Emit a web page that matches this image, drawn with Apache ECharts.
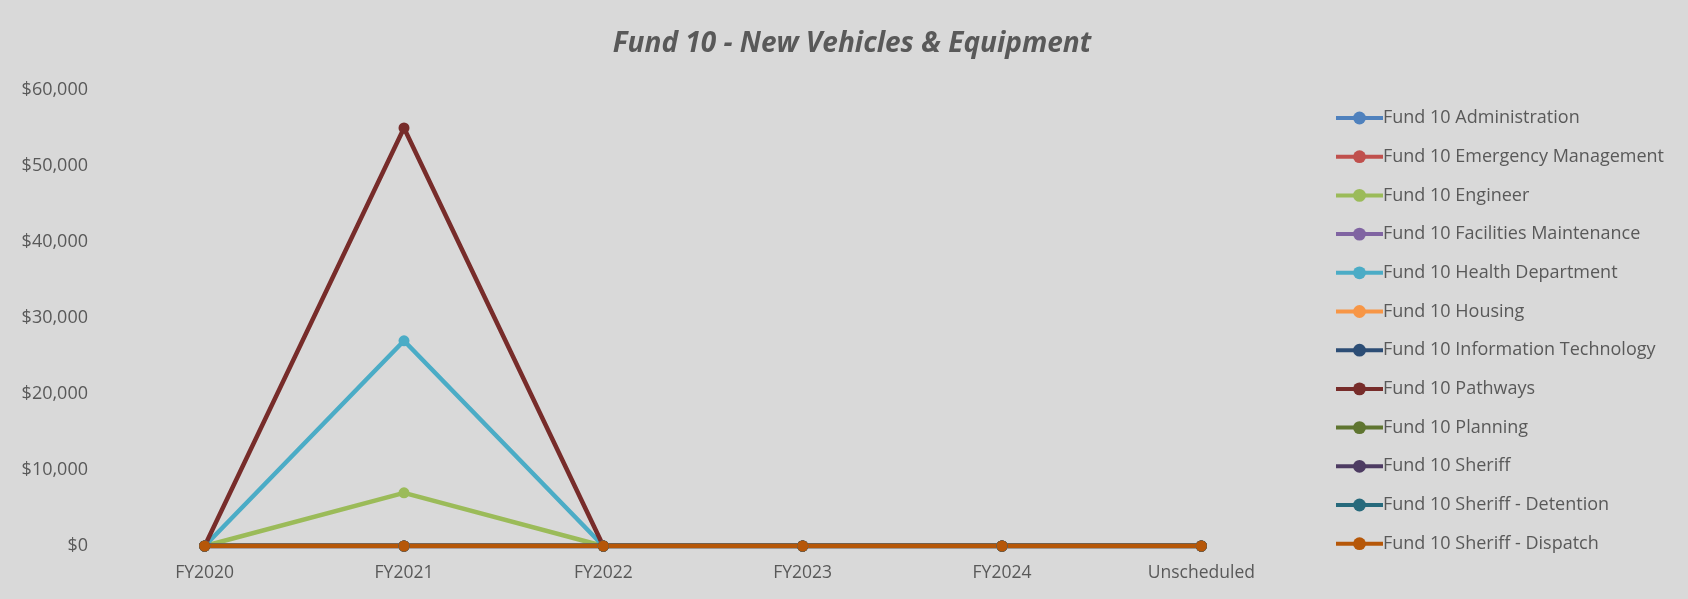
<!DOCTYPE html>
<html><head><meta charset="utf-8">
<script src="https://cdn.jsdelivr.net/npm/echarts@6/dist/echarts.min.js"></script>
<style>html,body{margin:0;padding:0;background:#D9D9D9;}#c{width:1688px;height:599px;}</style>
</head><body><div id="c"></div>
<script>
const categories = ['FY2020','FY2021','FY2022','FY2023','FY2024','Unscheduled'];
const seriesNames = ['Fund 10 Administration','Fund 10 Emergency Management','Fund 10 Engineer','Fund 10 Facilities Maintenance','Fund 10 Health Department','Fund 10 Housing','Fund 10 Information Technology','Fund 10 Pathways','Fund 10 Planning','Fund 10 Sheriff','Fund 10 Sheriff - Detention','Fund 10 Sheriff - Dispatch'];
const administration = [0,0,0,0,0,0];
const emergencyManagement = [0,0,0,0,0,0];
const engineer = [0,7000,0,0,0,0];
const facilitiesMaintenance = [0,0,0,0,0,0];
const healthDepartment = [0,27000,0,0,0,0];
const housing = [0,0,0,0,0,0];
const informationTechnology = [0,0,0,0,0,0];
const pathways = [0,55000,0,0,0,0];
const planning = [0,0,0,0,0,0];
const sheriff = [0,0,0,0,0,0];
const sheriffDetention = [0,0,0,0,0,0];
const sheriffDispatch = [0,0,0,0,0,0];
const seriesValues = [administration,emergencyManagement,engineer,facilitiesMaintenance,healthDepartment,housing,informationTechnology,pathways,planning,sheriff,sheriffDetention,sheriffDispatch];
const colors = ['#4F81BD','#C0504D','#9BBB59','#8064A2','#4BACC6','#F79646','#2C4D75','#772C2A','#5F7530','#4D3B62','#276A7C','#B65708'];

const FONT = '"Open Sans", sans-serif';
const chart = echarts.init(document.getElementById('c'));
chart.setOption({
  backgroundColor: '#D9D9D9',
  animation: false,
  color: colors,
  title: {
    text: 'Fund 10 - New Vehicles & Equipment',
    left: 847, top: 25, textAlign: 'center',
    textStyle: {fontFamily: FONT, fontSize: 28, fontWeight: 'bold', fontStyle: 'italic', color: '#595959'}
  },
  legend: {
    orient: 'vertical', left: 1329, top: 104,
    itemWidth: 47, itemHeight: 16, itemGap: 20.7,
    lineStyle: {width: 4},
    textStyle: {fontFamily: FONT, fontSize: 18, color: '#595959', lineHeight: 16, padding: [0,0,0,-5]},
    data: seriesNames
  },
  grid: {left: 105, right: 387, top: 90, bottom: 53, containLabel: false},
  xAxis: {
    type: 'category', data: categories, boundaryGap: true,
    axisLine: {show: false}, axisTick: {show: false},
    axisLabel: {margin: 18, fontFamily: FONT, fontSize: 17.5, color: '#595959'}
  },
  yAxis: {
    type: 'value', min: 0, max: 60000, interval: 10000,
    splitLine: {show: false}, axisLine: {show: false}, axisTick: {show: false},
    axisLabel: {margin: 17, fontFamily: FONT, fontSize: 18, color: '#595959',
      formatter: v => '$' + v.toLocaleString('en-US')}
  },
  series: seriesNames.map((n, i) => ({
    name: n, type: 'line', data: seriesValues[i],
    symbol: 'circle', symbolSize: 11,
    lineStyle: {width: 4.5, color: colors[i]},
    itemStyle: {color: colors[i]}
  }))
});
</script></body></html>
